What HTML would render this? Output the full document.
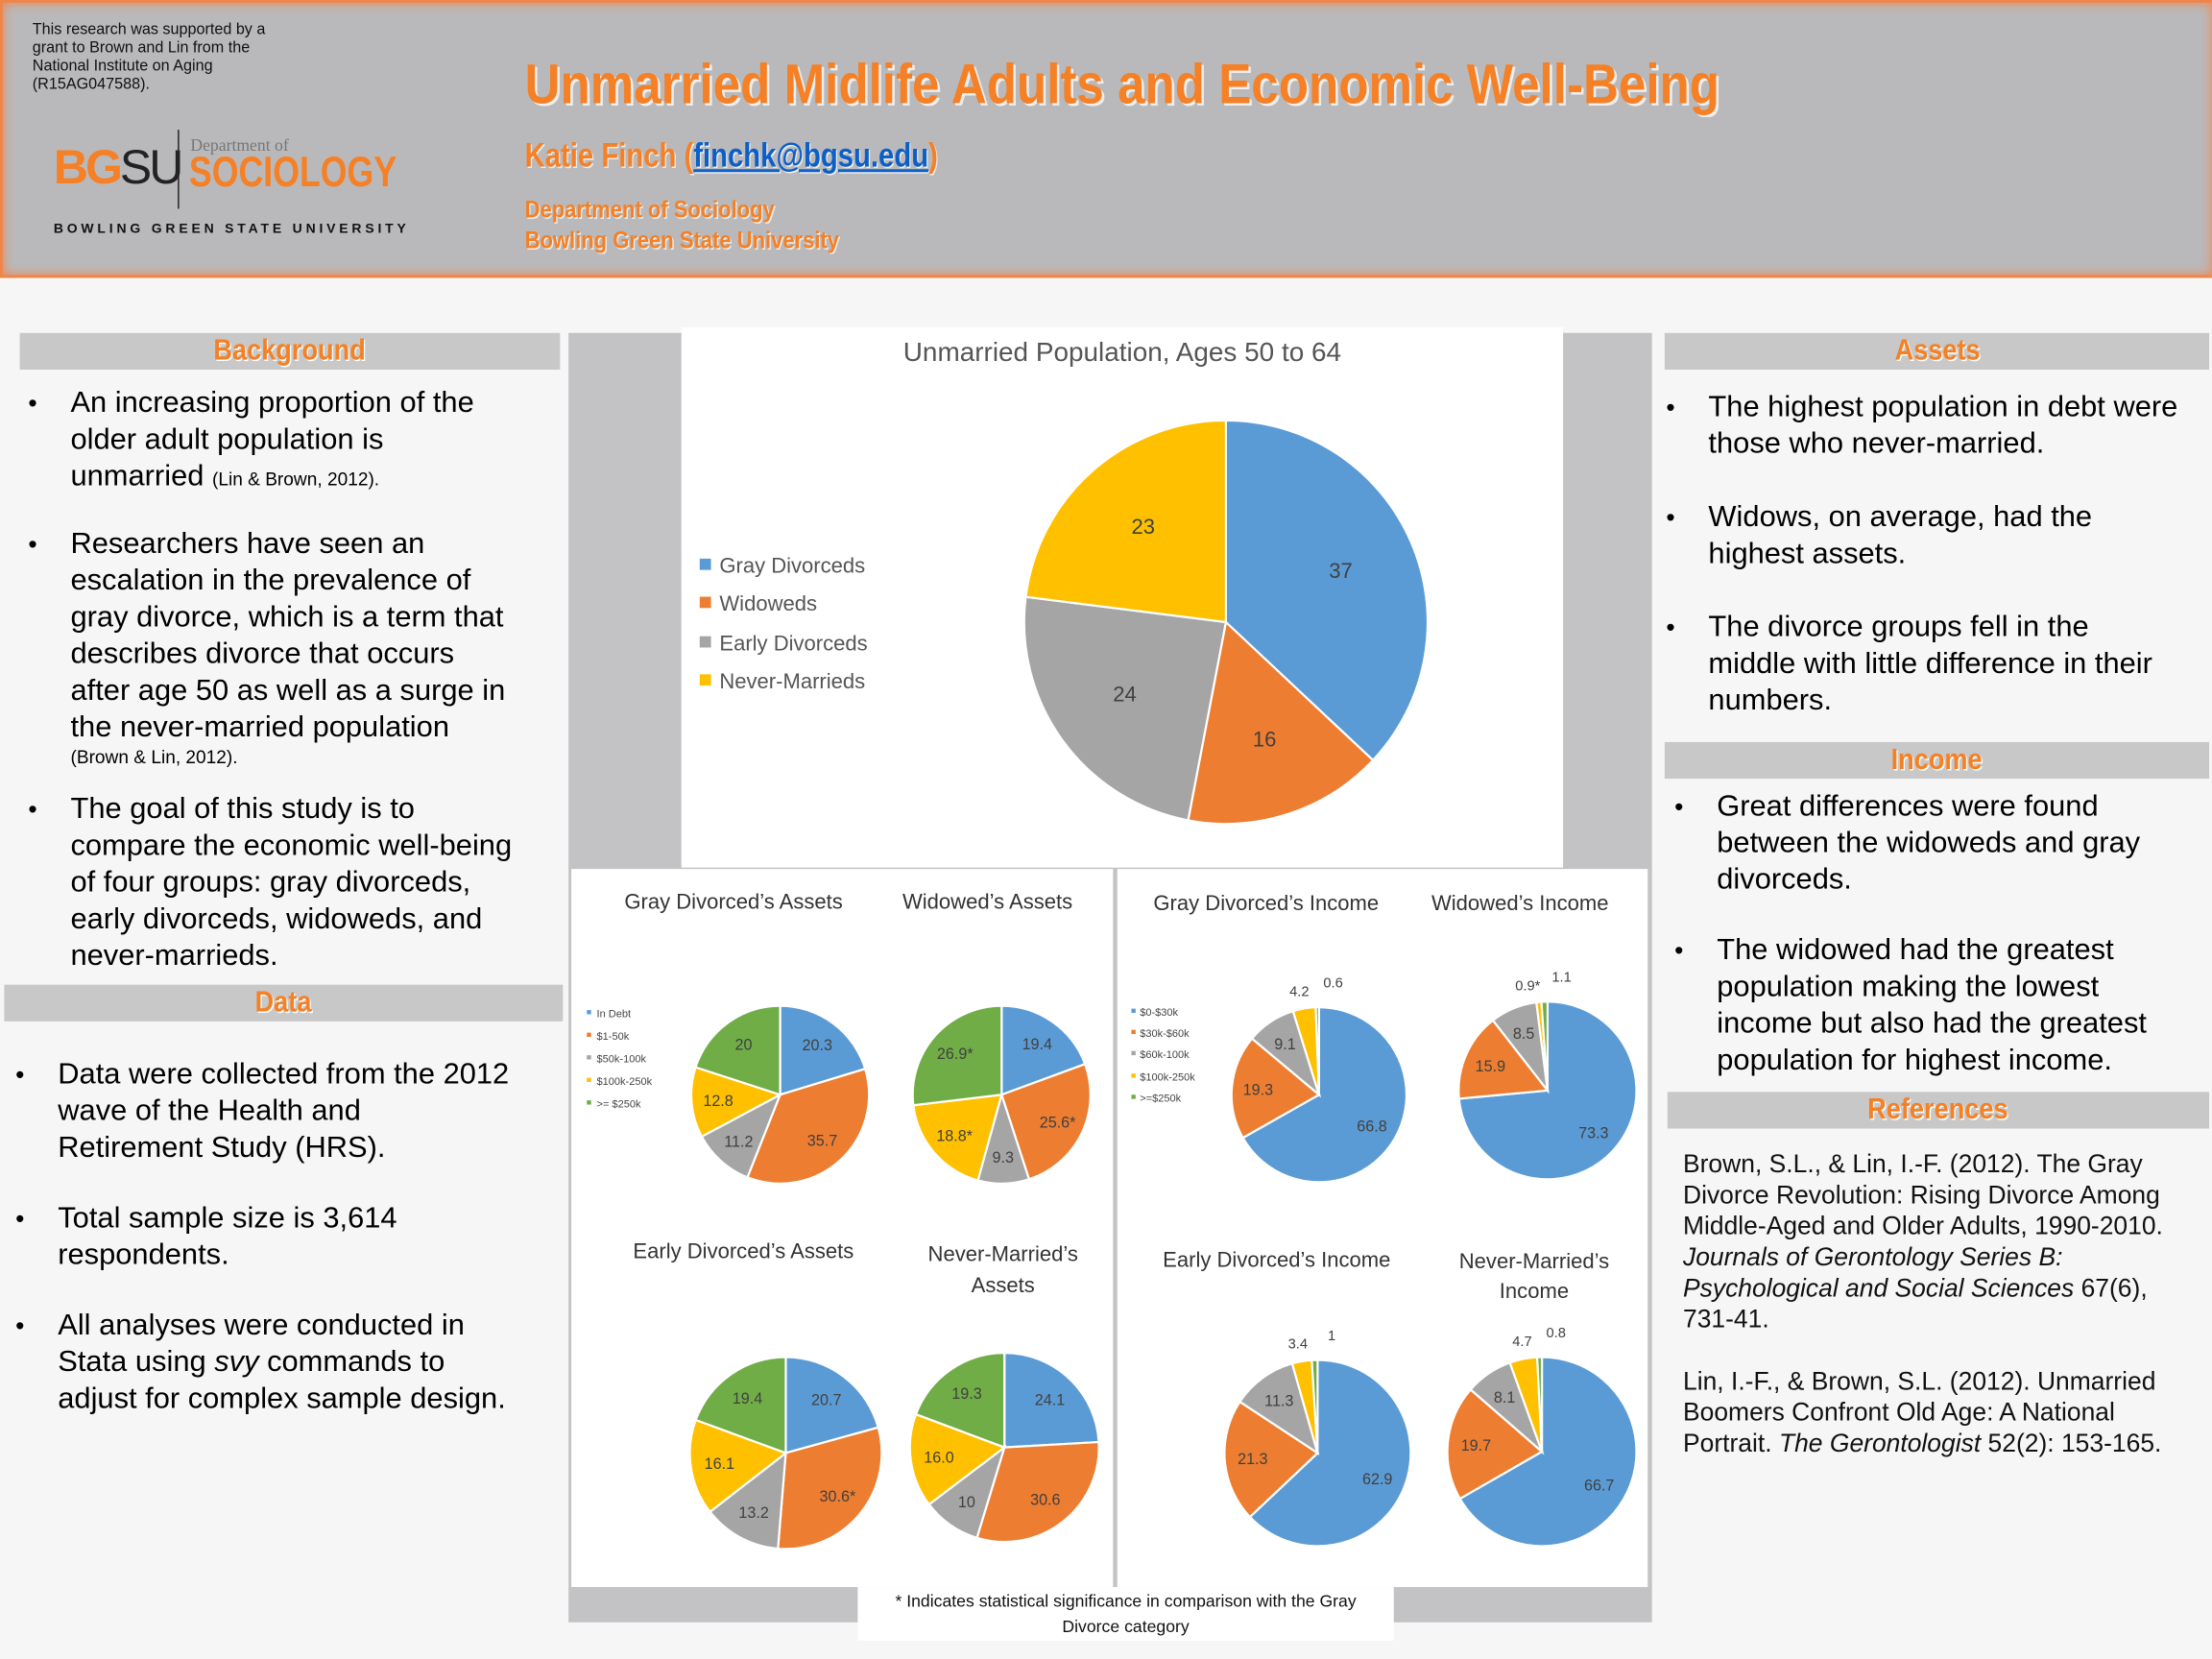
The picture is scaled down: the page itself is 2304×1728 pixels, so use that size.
<!DOCTYPE html>
<html><head><meta charset="utf-8">
<style>
html,body{margin:0;padding:0;background:#f6f6f6;}
#wrap{position:absolute;left:0;top:0;width:1568px;height:1176px;transform:scale(1.469388);transform-origin:0 0;font-family:"Liberation Sans",sans-serif;overflow:hidden;background:#f6f6f6;}
.abs{position:absolute;}
.hdr{left:0;top:0;width:1566px;height:193px;background:#b9b9bb;border:2px solid #f0854a;box-shadow:inset 0 0 8px #f0854a;}
.bar{position:absolute;background:#c8c8c8;color:#f58025;font-weight:bold;text-align:center;font-size:21px;line-height:26px;height:26px;text-shadow:1px 1px 0 #fff;}
.bar span{display:inline-block;transform:scaleX(0.88);}
.txt{position:absolute;color:#000;font-size:21px;line-height:26px;white-space:nowrap;}
.txt ul{margin:0;padding:0;list-style:none;}
.txt li{position:relative;}
.txt li:before{content:"•";position:absolute;left:-30px;font-size:18px;}
.sm{font-size:13px;}
.ttl{position:absolute;font-size:15px;color:#333;text-align:center;}
.nx{display:inline-block;transform-origin:0 0;white-space:nowrap;}
</style></head><body><div id="wrap">
<div class="abs hdr"></div>
<div class="abs" style="left:23px;top:15px;font-size:11px;line-height:13px;color:#111;width:180px;">This research was supported by a grant to Brown and Lin from the National Institute on Aging (R15AG047588).</div>
<div class="abs" style="left:38px;top:100px;font-size:34px;font-weight:bold;color:#f58025;letter-spacing:-2px;">BG<span style="color:#222;font-weight:normal">SU</span></div>
<div class="abs" style="left:126px;top:92px;width:1px;height:56px;background:#222;"></div>
<div class="abs" style="left:135px;top:96px;font-size:12px;color:#777;font-family:'Liberation Serif',serif;">Department of</div>
<div class="abs nx" style="left:134px;top:106px;font-size:30px;font-weight:bold;color:#f58025;transform:scaleX(0.81);">SOCIOLOGY</div>
<div class="abs" style="left:38px;top:157px;font-size:9.5px;font-weight:bold;letter-spacing:2.6px;color:#111;">BOWLING GREEN STATE UNIVERSITY</div>
<div class="abs nx" style="left:372px;top:38px;font-size:40px;font-weight:bold;color:#f58025;text-shadow:2px 2px 0 #eee;transform:scaleX(0.87);">Unmarried Midlife Adults and Economic Well-Being</div>
<div class="abs nx" style="left:372px;top:97px;font-size:24px;font-weight:bold;color:#f58025;text-shadow:1px 1px 0 #eee;transform:scaleX(0.83);">Katie Finch (<span style="color:#0b5fc7;text-decoration:underline">finchk@bgsu.edu</span>)</div>
<div class="abs nx" style="left:372px;top:138px;font-size:17px;line-height:22px;font-weight:bold;color:#f58025;text-shadow:1px 1px 0 #eee;transform:scaleX(0.88);">Department of Sociology<br>Bowling Green State University</div>

<div class="bar" style="left:14px;top:236px;width:383px;"><span>Background</span></div>
<div class="txt" style="left:50px;top:273px;"><ul>
<li>An increasing proportion of the<br>older adult population is<br>unmarried <span class="sm">(Lin &amp; Brown, 2012).</span></li>
<li style="margin-top:20px">Researchers have seen an<br>escalation in the prevalence of<br>gray divorce, which is a term that<br>describes divorce that occurs<br>after age 50 as well as a surge in<br>the never-married population<br><span class="sm" style="line-height:16px;display:block">(Brown &amp; Lin, 2012).</span></li>
<li style="margin-top:16px">The goal of this study is to<br>compare the economic well-being<br>of four groups: gray divorceds,<br>early divorceds, widoweds, and<br>never-marrieds.</li></ul></div>
<div class="bar" style="left:3px;top:698px;width:396px;"><span>Data</span></div>
<div class="txt" style="left:41px;top:749px;"><ul>
<li>Data were collected from the 2012<br>wave of the Health and<br>Retirement Study (HRS).</li>
<li style="margin-top:24px">Total sample size is 3,614<br>respondents.</li>
<li style="margin-top:24px">All analyses were conducted in<br>Stata using <i>svy</i> commands to<br>adjust for complex sample design.</li></ul></div>

<div class="bar" style="left:1180px;top:236px;width:386px;"><span>Assets</span></div>
<div class="txt" style="left:1211px;top:276px;"><ul>
<li>The highest population in debt were<br>those who never-married.</li>
<li style="margin-top:26px">Widows, on average, had the<br>highest assets.</li>
<li style="margin-top:26px">The divorce groups fell in the<br>middle with little difference in their<br>numbers.</li></ul></div>
<div class="bar" style="left:1180px;top:526px;width:386px;"><span>Income</span></div>
<div class="txt" style="left:1217px;top:559px;"><ul>
<li>Great differences were found<br>between the widoweds and gray<br>divorceds.</li>
<li style="margin-top:24px">The widowed had the greatest<br>population making the lowest<br>income but also had the greatest<br>population for highest income.</li></ul></div>
<div class="bar" style="left:1182px;top:774px;width:384px;"><span>References</span></div>
<div class="abs" style="left:1193px;top:814px;width:360px;font-size:18px;line-height:22px;color:#111;">Brown, S.L., &amp; Lin, I.-F. (2012). The Gray Divorce Revolution: Rising Divorce Among Middle-Aged and Older Adults, 1990-2010. <i>Journals of Gerontology Series B: Psychological and Social Sciences</i> 67(6), 731-41.<br><br>Lin, I.-F., &amp; Brown, S.L. (2012). Unmarried Boomers Confront Old Age: A National Portrait. <i>The Gerontologist</i> 52(2): 153-165.</div>

<div class="abs" style="left:403px;top:236px;width:768px;height:914px;background:#c3c3c5;"></div>
<div class="abs" style="left:483px;top:232px;width:625px;height:383px;background:#fff;"></div>
<div class="abs" style="left:405px;top:616px;width:384px;height:509px;background:#fff;"></div>
<div class="abs" style="left:792px;top:616px;width:376px;height:509px;background:#fff;"></div>
<div class="abs" style="left:608px;top:1125px;width:380px;height:38px;background:#fff;"></div>
<div class="abs" style="left:608px;top:1126px;width:380px;text-align:center;font-size:12px;line-height:18px;color:#111;">* Indicates statistical significance in comparison with the Gray<br>Divorce category</div>

<div class="ttl" style="left:483px;top:240px;width:625px;font-size:19px;color:#555;">Unmarried Population, Ages 50 to 64</div>
<div class="ttl" style="left:430px;top:631px;width:180px;">Gray Divorced’s Assets</div>
<div class="ttl" style="left:615px;top:631px;width:170px;">Widowed’s Assets</div>
<div class="ttl" style="left:805px;top:632px;width:185px;">Gray Divorced’s Income</div>
<div class="ttl" style="left:995px;top:632px;width:165px;">Widowed’s Income</div>
<div class="ttl" style="left:437px;top:879px;width:180px;">Early Divorced’s Assets</div>
<div class="ttl" style="left:640px;top:879px;width:142px;line-height:22px;">Never-Married’s Assets</div>
<div class="ttl" style="left:810px;top:885px;width:190px;">Early Divorced’s Income</div>
<div class="ttl" style="left:1020px;top:884px;width:135px;line-height:21px;">Never-Married’s Income</div>

<svg id="sv" class="abs" style="left:0;top:0" width="1568" height="1176" font-family="Liberation Sans, sans-serif">
<g font-size="15" fill="#555">
<rect x="496" y="396" width="8" height="8" fill="#5b9bd5"/><text x="510" y="406">Gray Divorceds</text>
<rect x="496" y="423" width="8" height="8" fill="#ed7d31"/><text x="510" y="433">Widoweds</text>
<rect x="496" y="451" width="8" height="8" fill="#a5a5a5"/><text x="510" y="461">Early Divorceds</text>
<rect x="496" y="478" width="8" height="8" fill="#ffc000"/><text x="510" y="488">Never-Marrieds</text>
</g>
<g font-size="7.5" fill="#444">
<rect x="416" y="716" width="3" height="3" fill="#5b9bd5"/><text x="423" y="721">In Debt</text>
<rect x="416" y="732" width="3" height="3" fill="#ed7d31"/><text x="423" y="737">$1-50k</text>
<rect x="416" y="748" width="3" height="3" fill="#a5a5a5"/><text x="423" y="753">$50k-100k</text>
<rect x="416" y="764" width="3" height="3" fill="#ffc000"/><text x="423" y="769">$100k-250k</text>
<rect x="416" y="780" width="3" height="3" fill="#70ad47"/><text x="423" y="785">&gt;= $250k</text>
<rect x="802" y="715" width="3" height="3" fill="#5b9bd5"/><text x="808" y="720">$0-$30k</text>
<rect x="802" y="730" width="3" height="3" fill="#ed7d31"/><text x="808" y="735">$30k-$60k</text>
<rect x="802" y="745" width="3" height="3" fill="#a5a5a5"/><text x="808" y="750">$60k-100k</text>
<rect x="802" y="761" width="3" height="3" fill="#ffc000"/><text x="808" y="766">$100k-250k</text>
<rect x="802" y="776" width="3" height="3" fill="#70ad47"/><text x="808" y="781">&gt;=$250k</text>
</g>
</svg>
<script>
var C=["#5b9bd5","#ed7d31","#a5a5a5","#ffc000","#70ad47"];
var pies=[
[869,441,143,[37,16,24,23],["37","16","24","23"],15,0.62],
[553,776,63,[20.3,35.7,11.2,12.8,20],["20.3","35.7","11.2","12.8","20"],11,0.7],
[710,776,63,[19.4,25.6,9.3,18.8,26.9],["19.4","25.6*","9.3","18.8*","26.9*"],11,0.7],
[935,776,62,[66.8,19.3,9.1,4.2,0.6],["66.8","19.3","9.1","4.2","0.6"],11,0.7],
[1097,773,63,[73.3,15.9,8.5,0.9,1.1],["73.3","15.9","8.5","0.9*","1.1"],11,0.7],
[557,1030,68,[20.7,30.6,13.2,16.1,19.4],["20.7","30.6*","13.2","16.1","19.4"],11,0.7],
[712,1026,67,[24.1,30.6,10,16.0,19.3],["24.1","30.6","10","16.0","19.3"],11,0.7],
[934,1030,66,[62.9,21.3,11.3,3.4,1],["62.9","21.3","11.3","3.4","1"],11,0.7],
[1093,1029,67,[66.7,19.7,8.1,4.7,0.8],["66.7","19.7","8.1","4.7","0.8"],11,0.7]];
var out="";
pies.forEach(function(p){var cx=p[0],cy=p[1],r=p[2],v=p[3],t=0,tot=v.reduce(function(a,b){return a+b},0);
var small=[];
v.forEach(function(x,i){var a0=t/tot*2*Math.PI;t+=x;var a1=t/tot*2*Math.PI;
var x0=cx+r*Math.sin(a0),y0=cy-r*Math.cos(a0),x1=cx+r*Math.sin(a1),y1=cy-r*Math.cos(a1);
out+='<path d="M'+cx+','+cy+'L'+x0.toFixed(2)+','+y0.toFixed(2)+'A'+r+','+r+' 0 '+((a1-a0)>Math.PI?1:0)+' 1 '+x1.toFixed(2)+','+y1.toFixed(2)+'Z" fill="'+C[i]+'" stroke="#fff" stroke-width="1.5"/>';
var am=(a0+a1)/2,lr=r*p[6];
if(x/tot<0.05&&p[5]<15){small.push([am,i]);}
else{out+='<text x="'+(cx+lr*Math.sin(am)).toFixed(1)+'" y="'+(cy-lr*Math.cos(am)+4).toFixed(1)+'" font-size="'+p[5]+'" fill="#404040" text-anchor="middle">'+p[4][s=i]+'</text>';}
});
small.forEach(function(s,k){var lx=cx+(k==0?-14:10),ly=cy-r-(k==0?8:14);
out+='<text x="'+lx+'" y="'+ly+'" font-size="10" fill="#404040" text-anchor="middle">'+p[4][s[1]]+'</text>';});
});
document.getElementById("sv").insertAdjacentHTML("beforeend",out);
</script>
</div></body></html>
